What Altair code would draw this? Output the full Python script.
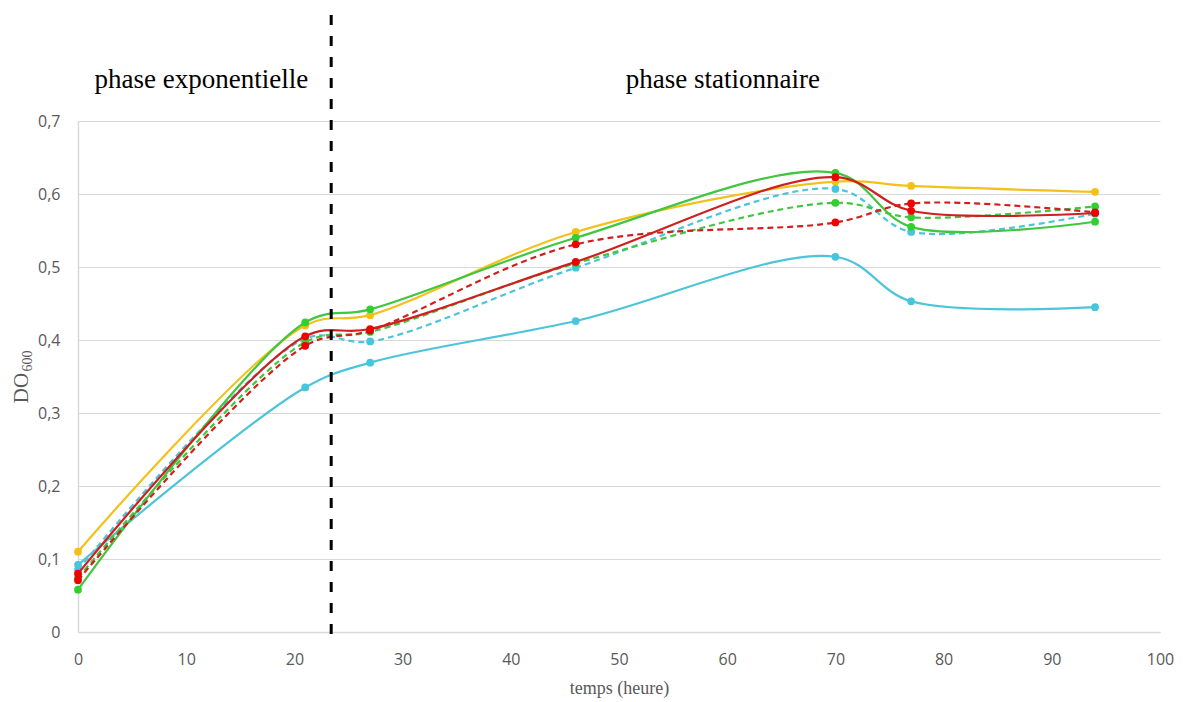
import altair as alt
import pandas as pd

# time points (hours)
temps = [0, 21, 27, 46, 70, 77, 94]

# DO600 values per series
jaune = [0.110, 0.420, 0.434, 0.548, 0.617, 0.611, 0.603]
cyan_pointille = [0.085, 0.402, 0.398, 0.499, 0.607, 0.548, 0.573]
cyan = [0.092, 0.335, 0.369, 0.426, 0.514, 0.453, 0.445]
vert_pointille = [0.074, 0.397, 0.411, 0.505, 0.588, 0.568, 0.583]
vert = [0.058, 0.424, 0.442, 0.540, 0.629, 0.555, 0.562]
rouge_pointille = [0.071, 0.392, 0.413, 0.531, 0.561, 0.587, 0.575]
rouge = [0.080, 0.405, 0.415, 0.507, 0.623, 0.577, 0.574]

series = [
    ("jaune", jaune, "#F2C11C", "#F5C013", False),
    ("cyan_pointille", cyan_pointille, "#4CC4D9", "#45C6DC", True),
    ("cyan", cyan, "#4CC4D9", "#45C6DC", False),
    ("vert_pointille", vert_pointille, "#40C640", "#2FD02F", True),
    ("vert", vert, "#40C640", "#2FD02F", False),
    ("rouge_pointille", rouge_pointille, "#CF1F1F", "#F00000", True),
    ("rouge", rouge, "#CF1F1F", "#F00000", False),
]

frontiere = [23.4]
phases = ["phase exponentielle", "phase stationnaire"]
phase_x = [11.4, 59.6]

x_scale = alt.Scale(domain=[0, 100], nice=False)
y_scale = alt.Scale(domain=[0, 0.7], nice=False)

x_axis = alt.Axis(
    values=list(range(0, 101, 10)), grid=False, ticks=False, domain=True,
    domainColor="#D9D9D9", domainWidth=1.5, labelFont="Open Sans", labelFontSize=16,
    labelColor="#595959", labelPadding=19, labelFlush=False, title="temps (heure)",
    titleFont="Liberation Serif", titleFontSize=18, titleFontWeight="normal",
    titleColor="#595959", titlePadding=12,
)
y_axis = alt.Axis(
    values=[0, 0.1, 0.2, 0.3, 0.4, 0.5, 0.6, 0.7], grid=True, gridColor="#D9D9D9",
    gridWidth=1.2, ticks=False, domain=True, domainColor="#D9D9D9", domainWidth=1.5,
    labelFont="Open Sans", labelFontSize=16, labelColor="#595959", labelPadding=18,
    labelFlush=False,
    labelExpr="datum.value == 0 ? '0' : replace(datum.label, '.', ',')", title=None,
)


def X(field):
    return alt.X(field, scale=x_scale, axis=x_axis)


def Y(field):
    return alt.Y(field, scale=y_scale, axis=y_axis)


layers = []
for name, vals, lc, mc, dashed in series:
    df = pd.DataFrame({"temps": temps, "DO": vals, "serie": name})
    base = alt.Chart(df)
    line_kwargs = dict(interpolate="catmull-rom", color=lc, strokeWidth=2.2)
    if dashed:
        line_kwargs["strokeDash"] = [6, 4]
    layers.append(base.mark_line(**line_kwargs).encode(x=X("temps:Q"), y=Y("DO:Q")))
    layers.append(
        base.mark_circle(size=60, color=mc, opacity=1).encode(x=X("temps:Q"), y=Y("DO:Q"))
    )

rule = alt.Chart(pd.DataFrame({"temps": frontiere})).mark_rule(
    color="black", strokeWidth=3, strokeDash=[10, 11]
).encode(x=X("temps:Q"), y=alt.value(-106), y2=alt.value(522))

labels = alt.Chart(pd.DataFrame({"temps": phase_x, "t": phases})).mark_text(
    font="Liberation Serif", fontSize=27, color="black", align="center",
    baseline="alphabetic",
).encode(x=X("temps:Q"), y=alt.value(-33), text="t:N")

ytitle_do = alt.Chart(pd.DataFrame({"t": ["DO"]})).mark_text(
    font="Liberation Serif", fontSize=21, color="#595959", angle=270,
    align="center", baseline="alphabetic",
).encode(x=alt.value(-50), y=alt.value(267), text="t:N")

ytitle_sub = alt.Chart(pd.DataFrame({"t": ["600"]})).mark_text(
    font="Liberation Serif", fontSize=14, color="#595959", angle=270,
    align="center", baseline="alphabetic",
).encode(x=alt.value(-46), y=alt.value(240), text="t:N")

chart = alt.layer(*layers, rule, labels, ytitle_do, ytitle_sub).properties(
    width=1082, height=511,
    autosize=alt.AutoSizeParams(type="none"),
    padding={"left": 70, "top": 113, "right": 20, "bottom": 70},
    view=alt.ViewBackground(strokeOpacity=0, strokeWidth=0),
).configure_view(strokeOpacity=0, strokeWidth=0).configure(background="white")

chart.save("out.html", embed_options={"renderer": "svg", "actions": False})
